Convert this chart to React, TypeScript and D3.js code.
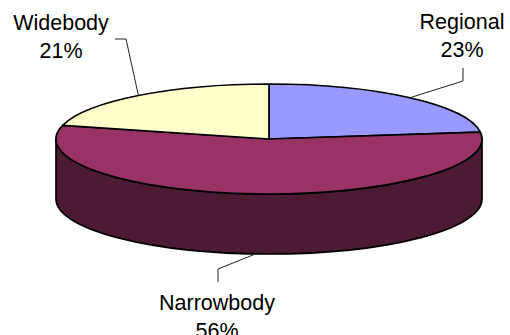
import React from "react";
import * as d3 from "d3";

// Fleet composition by aircraft type
const categories = ["Regional", "Narrowbody", "Widebody"];
const shares = [23, 56, 21];
const topColors = ["#9999FF", "#993366", "#FFFFCC"];
const sideColors = ["#4D4D80", "#4C1A33", "#808066"];

const W = 510;
const H = 335;

// Projected pie geometry
const cx = 269;
const cy = 139;
const rx = 213;
const ry = 55;
const depth = 60;

// Label layout: text anchor and leader-line elbow for each category
const labelPos = [
  { x: 462, y: 29, elbow: [[463, 81], [463, 68]] },
  { x: 217, y: 310, elbow: [[218, 269], [218, 282]] },
  { x: 61, y: 30, elbow: [[126, 39], [115, 39]] },
];

const pt = (a: number, dy = 0): [number, number] => [
  cx + rx * Math.sin(a),
  cy - ry * Math.cos(a) + dy,
];

export default function App() {
  const pie = d3
    .pie<number>()
    .sort(null)
    .value((d) => d);
  const arcs = pie(shares);

  // Top face wedges
  const wedges = arcs.map((a, i) => {
    const [x0, y0] = pt(a.startAngle);
    const [x1, y1] = pt(a.endAngle);
    const large = a.endAngle - a.startAngle > Math.PI ? 1 : 0;
    const d = `M${cx},${cy}L${x0},${y0}A${rx},${ry} 0 ${large} 1 ${x1},${y1}Z`;
    return { d, color: topColors[i] };
  });

  // Front side walls: the visible part of each wedge between 90° and 270°
  const sides = arcs
    .map((a, i) => {
      const s = Math.max(a.startAngle, Math.PI / 2);
      const e = Math.min(a.endAngle, (3 * Math.PI) / 2);
      if (e <= s) return null;
      const [x0, y0] = pt(s);
      const [x1, y1] = pt(e);
      const [x2, y2] = pt(e, depth);
      const [x3, y3] = pt(s, depth);
      const large = e - s > Math.PI ? 1 : 0;
      const d =
        `M${x0},${y0}A${rx},${ry} 0 ${large} 1 ${x1},${y1}` +
        `L${x2},${y2}A${rx},${ry} 0 ${large} 0 ${x3},${y3}Z`;
      return { d, color: sideColors[i] };
    })
    .filter(Boolean) as { d: string; color: string }[];

  // Leader-line anchors at each wedge's middle angle
  const leaders = arcs.map((a, i) => {
    const mid = (a.startAngle + a.endAngle) / 2;
    const front = mid > Math.PI / 2 && mid < (3 * Math.PI) / 2;
    const anchor = pt(mid, front ? depth : 0);
    const pts = [anchor, ...labelPos[i].elbow] as [number, number][];
    return d3.line()(pts) as string;
  });

  const fmt = (v: number) => `${Math.round((v / d3.sum(shares)) * 100)}%`;

  return (
    <svg
      width={W}
      height={H}
      style={{ position: "absolute", left: 0, top: 0, background: "#fff" }}
      fontFamily="'Liberation Sans', Arial, sans-serif"
    >
      <g stroke="#000" strokeWidth={1.7} strokeLinejoin="round">
        {sides.map((s, i) => (
          <path key={"s" + i} d={s.d} fill={s.color} />
        ))}
        {wedges.map((w, i) => (
          <path key={"w" + i} d={w.d} fill={w.color} />
        ))}
      </g>
      <g stroke="#222" strokeWidth={1} fill="none">
        {leaders.map((d, i) => (
          <path key={"l" + i} d={d} />
        ))}
      </g>
      <g fontSize={21.5} fill="#000" textAnchor="middle">
        {categories.map((c, i) => (
          <text key={c} x={labelPos[i].x} y={labelPos[i].y}>
            <tspan x={labelPos[i].x}>{c}</tspan>
            <tspan x={labelPos[i].x} dy={27.5}>
              {fmt(shares[i])}
            </tspan>
          </text>
        ))}
      </g>
    </svg>
  );
}
